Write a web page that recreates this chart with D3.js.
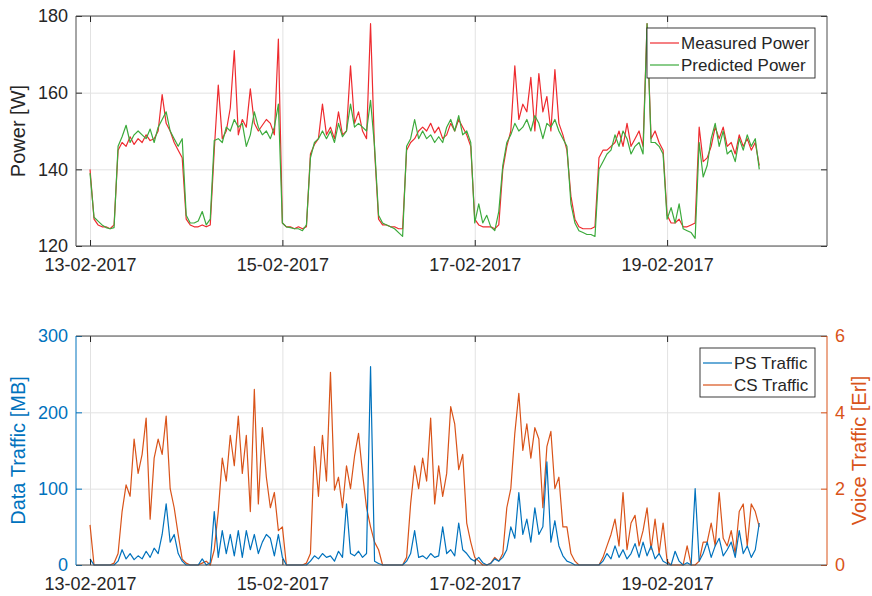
<!DOCTYPE html>
<html>
<head>
<meta charset="utf-8">
<script src="https://cdn.jsdelivr.net/npm/d3@7"></script>
<style>
  body { margin: 0; background: #fff; }
  svg { display: block; }
  .grid line { stroke: #e2e2e2; }
</style>
</head>
<body>
<svg id="chart" width="872" height="596"></svg>
<script>
// Power vs traffic, two stacked panels. Hourly samples from 13-02-2017 00:00.
const START = "13-02-2017";
const dateTicks = ["13-02-2017", "15-02-2017", "17-02-2017", "19-02-2017"];
const powerTicks = [120, 140, 160, 180];
const dataTicks = [0, 100, 200, 300];
const voiceTicks = [0, 2, 4, 6];
const powerLegend = ["Measured Power", "Predicted Power"];
const trafficLegend = ["PS Traffic", "CS Traffic"];

// Power [W]
const measured = [
  140,127,125.5,125,125,124.5,125.5,145,147,146,148.5,146.5,148,147,149,147.5,148,150,159.5,152,150,147,145,143,
  127,125.5,125,125,125.5,125,125.5,145,162,148,150,156,171,149,153,151,161,152,150,151.5,153,152,149,174,
  126,125,125,124.5,125,124.5,125,144,146.5,148,157,149,151,148,155,149,150,167,152,155,150,148,178,145,
  127,125.5,125.5,125,125,124.5,124.5,145,147,148,150,151,150,152,149.5,151,148,149,152,150,153,151,149,146,
  127,125.5,125,125,125,124.5,125.5,140,146,150,167,153,157,155,164,150,165,155,159,150,166,152,149,145,
  133,127,125,124.5,124.5,124.5,125,143,145,145,146,147,150,146,152,146,148,150,146,178,148,150,147,145,
  128,126,126,127,125,125,125.5,126,151,142,143,146,151,148,151,146,147,144,149,146,148,145,147,141
];
const predicted = [
  139,127.5,126.5,125.5,124.8,124.5,124.8,146,148.5,151.5,147,149,150,149,148,150.5,147,151,153,155,150,148,146,148,
  128,126,126,126.5,129,125.5,127,147.5,148,147,151,150,153,151,152,146,149,155,151,149,150,148,151,157,
  126,125,124.8,124.5,124.5,124,125.5,143,147,148,150,148,150,147,152,148.5,150,157,151,152,151,150,158,146,
  128,126,125.5,125,124.5,123.5,122.5,146,148,153,148,150,148,149,147,148.5,147,151,153,150,154,149,150,147,
  126,131,126,128,125,124,129,141,147,149,152,150,151,153,150,154,152,148,152,151,153,150,148,146,
  131,126,124,123.5,123,123,122.5,140,142,144,145,149,146,150,148,144,146,147,144,178,147,147,146,144,
  127,130,126,131,124.5,124,123.5,122,147,138,141,148,152,146,150,144,145,142,148,145,149,146,148,140
];
// PS traffic [MB], left axis
const psTraffic = [
  8,0,0,0,0,0,0,5,20,8,15,7,12,8,18,10,22,15,40,80,30,40,15,5,
  0,0,0,0,8,0,3,70,10,45,15,40,12,45,10,45,20,40,15,30,40,35,12,40,
  10,0,0,0,0,0,0,5,12,8,15,10,12,5,18,10,80,15,12,18,10,15,260,5,
  2,0,0,0,0,0,0,5,15,45,10,12,8,15,10,12,50,15,20,12,55,20,15,8,
  5,10,3,0,2,8,5,10,20,50,35,95,40,60,30,75,40,50,135,30,58,25,12,5,
  3,0,0,0,0,0,0,0,5,15,8,25,10,20,8,15,28,10,30,12,25,8,15,5,
  2,0,18,5,0,3,0,100,5,15,30,10,25,35,12,20,30,10,45,15,25,10,20,55
];
// CS traffic [Erl], right axis
const csTraffic = [
  1.05,0,0,0,0,0,0.05,0.3,1.4,2.1,1.8,3.3,2.4,2.9,3.85,1.2,2.8,3.3,2.9,3.9,2.0,1.5,0.8,0.15,
  0.05,0,0,0,0.05,0.1,0,0.4,1.4,2.8,2.2,3.4,2.6,3.9,2.4,3.4,1.4,4.6,1.6,3.6,2.3,1.5,1.9,0.9,
  1.0,0,0,0,0,0,0.05,0.3,3.1,1.8,3.4,2.2,5.05,1.96,2.3,1.5,2.6,2.0,2.85,3.45,2.4,1.5,1.0,0.6,
  0.4,0,0,0,0,0,0,0.2,1.6,2.6,2.0,2.8,2.2,3.85,1.6,2.6,1.8,2.4,4.15,3.7,2.5,2.9,1.1,0.6,
  0.2,0.1,0,0,0.05,0.2,0.1,0.3,1.5,2.0,3.45,4.5,3.0,3.7,2.8,3.6,3.3,1.5,3.1,3.5,2.0,2.3,1.0,1.0,
  0.3,0.1,0,0,0,0,0,0,0.2,0.5,0.8,1.2,0.5,1.9,0.4,1.1,1.3,0.5,0.9,1.5,0.4,1.2,0.3,1.1,
  0.1,0,0,0,0,0.5,0,0,0.1,0.6,0.6,1.1,0.5,1.9,0.7,0.5,0.9,0.3,1.4,1.6,0.5,1.6,1.4,1.0
];

const FONT = '"Liberation Sans", Arial, Helvetica, sans-serif';
const TXT = "#262626", BOX = "#4d4d4d";
const RED = "#ee2b2f", GREEN = "#3caa3c", BLUE = "#0072BD", ORANGE = "#D95319";
const L = 76, R = 827;
const P1 = { top: 16, bottom: 246 }, P2 = { top: 336, bottom: 565 };

const svg = d3.select("#chart");
const parse = d3.utcParse("%d-%m-%Y"), fmt = d3.utcFormat("%d-%m-%Y");
const t0 = parse(START);
const times = measured.map((_, i) => d3.utcHour.offset(t0, i));
const xt = dateTicks.map(parse);

const x = d3.scaleUtc()
  .domain([d3.utcMinute.offset(t0, -210), d3.utcMinute.offset(t0, 11034)]).range([L, R]);
const yP = d3.scaleLinear().domain([120, 180]).range([P1.bottom, P1.top]);
const yD = d3.scaleLinear().domain([0, 300]).range([P2.bottom, P2.top]);
const yV = d3.scaleLinear().domain([0, 6]).range([P2.bottom, P2.top]);

function noDomain(g) { g.select(".domain").remove(); }

function grid(p, y, yt) {
  svg.append("g").attr("class", "grid").attr("transform", `translate(0,${p.bottom})`)
    .call(d3.axisBottom(x).tickValues(xt).tickSize(-(p.bottom - p.top)).tickFormat("")).call(noDomain);
  svg.append("g").attr("class", "grid").attr("transform", `translate(${L},0)`)
    .call(d3.axisLeft(y).tickValues(yt).tickSize(-(R - L)).tickFormat("")).call(noDomain);
}

function xAxes(p) {
  svg.append("g").attr("transform", `translate(0,${p.bottom})`)
    .call(d3.axisBottom(x).tickValues(xt).tickFormat(fmt).tickSizeInner(-6).tickSizeOuter(0).tickPadding(12))
    .call(noDomain).attr("color", TXT).attr("font-family", FONT).attr("font-size", 18);
  svg.append("g").attr("transform", `translate(0,${p.top})`)
    .call(d3.axisTop(x).tickValues(xt).tickFormat("").tickSizeInner(-6).tickSizeOuter(0))
    .call(noDomain).attr("color", TXT);
}

function yAxis(axis, pos, color) {
  svg.append("g").attr("transform", `translate(${pos},0)`)
    .call(axis.tickSizeInner(-6).tickSizeOuter(0).tickPadding(8))
    .call(noDomain).attr("color", color).attr("font-family", FONT).attr("font-size", 18);
}

function vline(xp, p, color) {
  svg.append("line").attr("x1", xp).attr("x2", xp).attr("y1", p.top).attr("y2", p.bottom)
    .attr("stroke", color).attr("stroke-width", 1);
}
function hline(yp, color) {
  svg.append("line").attr("x1", L).attr("x2", R).attr("y1", yp).attr("y2", yp)
    .attr("stroke", color).attr("stroke-width", 1);
}

function series(values, y, color) {
  svg.append("path").datum(values)
    .attr("fill", "none").attr("stroke", color).attr("stroke-width", 1.2).attr("stroke-linejoin", "round")
    .attr("d", d3.line().x((d, i) => x(times[i])).y(d => y(d)));
}

function yLabel(text, xp, yp, color) {
  svg.append("text").attr("transform", `translate(${xp},${yp}) rotate(-90)`)
    .attr("text-anchor", "middle").attr("font-family", FONT).attr("font-size", 20)
    .attr("fill", color).text(text);
}

function legend(x0, y0, w, h, labels, colors) {
  const g = svg.append("g").attr("font-family", FONT).attr("font-size", 17);
  g.append("rect").attr("x", x0).attr("y", y0).attr("width", w).attr("height", h)
    .attr("fill", "#fff").attr("stroke", TXT).attr("stroke-width", 0.9);
  const rows = g.selectAll(".row").data(labels).join("g")
    .attr("transform", (d, i) => `translate(${x0},${y0 + 15 + i * 22})`);
  rows.append("line").attr("x1", 3).attr("x2", 32).attr("stroke", (d, i) => colors[i]).attr("stroke-width", 1.2);
  rows.append("text").attr("x", 34).attr("y", 6).attr("fill", TXT).text(d => d);
}

// top panel: power
grid(P1, yP, powerTicks);
series(measured, yP, RED);
series(predicted, yP, GREEN);
xAxes(P1);
yAxis(d3.axisLeft(yP).tickValues(powerTicks), L, TXT);
yAxis(d3.axisRight(yP).tickValues(powerTicks).tickFormat(""), R, TXT);
hline(P1.top, BOX); hline(P1.bottom, BOX); vline(L, P1, BOX); vline(R, P1, BOX);
yLabel("Power [W]", 25, (P1.top + P1.bottom) / 2, TXT);
legend(647, 28, 168, 50, powerLegend, [RED, GREEN]);

// bottom panel: traffic, two y axes
grid(P2, yD, dataTicks);
series(csTraffic, yV, ORANGE);
series(psTraffic, yD, BLUE);
xAxes(P2);
yAxis(d3.axisLeft(yD).tickValues(dataTicks).tickFormat(d3.format("d")), L, BLUE);
yAxis(d3.axisRight(yV).tickValues(voiceTicks).tickFormat(d3.format("d")), R, ORANGE);
hline(P2.top, BOX); hline(P2.bottom, BOX); vline(L, P2, BLUE); vline(R, P2, ORANGE);
yLabel("Data Traffic [MB]", 25, (P2.top + P2.bottom) / 2, BLUE);
yLabel("Voice Traffic [Erl]", 866, (P2.top + P2.bottom) / 2, ORANGE);
legend(700, 348, 115, 49, trafficLegend, [BLUE, ORANGE]);
</script>
</body>
</html>
